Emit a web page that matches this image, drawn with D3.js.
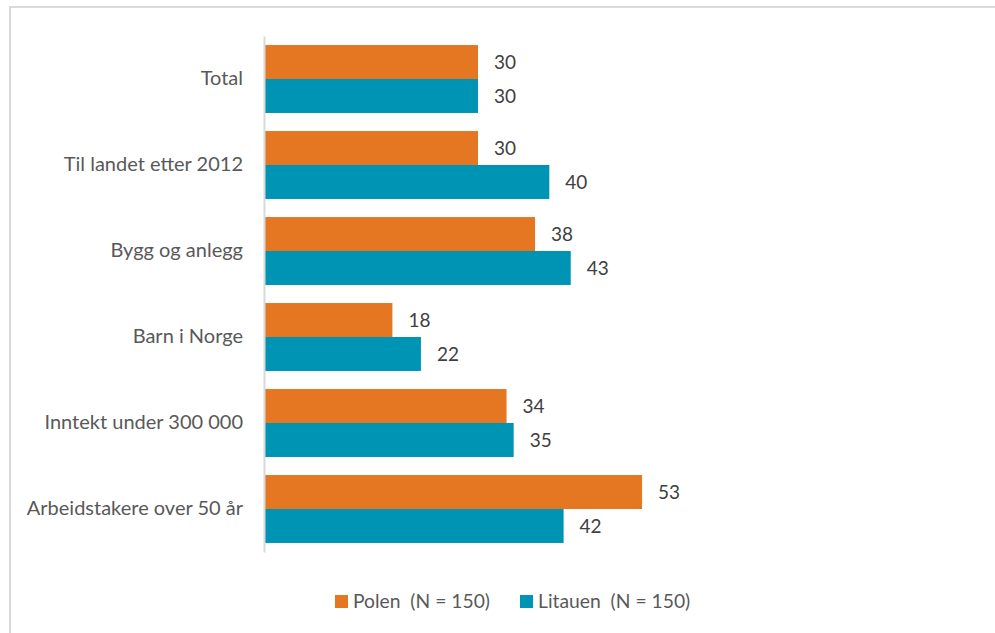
<!DOCTYPE html>
<html>
<head>
<meta charset="utf-8">
<script src="https://cdn.jsdelivr.net/npm/d3@7"></script>
<style>
  html, body { margin: 0; padding: 0; background: #fff; }
  svg { display: block; }
  text { font-family: Lato, "Open Sans", sans-serif; }
</style>
</head>
<body>
<svg id="chart" width="995" height="633"></svg>
<script>
const categories = ["Total", "Til landet etter 2012", "Bygg og anlegg", "Barn i Norge", "Inntekt under 300 000", "Arbeidstakere over 50 år"];
const seriesNames = ["Polen  (N = 150)", "Litauen  (N = 150)"];
const polen = [30, 30, 38, 18, 34, 53];
const litauen = [30, 40, 43, 22, 35, 42];
const colors = ["#E67722", "#0094B4"];

const svg = d3.select("#chart");
const W = 995, H = 633;

// outer frame (only top & left visible in the reference)
svg.append("rect")
  .attr("x", 10).attr("y", 7)
  .attr("width", W + 20).attr("height", H + 20)
  .attr("fill", "none").attr("stroke", "#d9d9d9").attr("stroke-width", 2);

const x0 = 264;
const x = d3.scaleLinear().domain([0, 30]).range([x0, 478]);
const y = d3.scaleBand().domain(categories).range([36, 552]).paddingInner(0.21).paddingOuter(0.105);
const ySub = d3.scaleBand().domain([0, 1]).range([0, y.bandwidth()]);

const data = categories.map((c, i) => ({ cat: c, vals: [polen[i], litauen[i]] }));

const g = svg.append("g");
const groups = g.selectAll("g.cat").data(data).join("g")
  .attr("transform", d => `translate(0,${y(d.cat)})`);

groups.selectAll("rect").data(d => d.vals.map((v, k) => ({ v, k }))).join("rect")
  .attr("x", x(0))
  .attr("y", d => ySub(d.k))
  .attr("width", d => x(d.v) - x(0))
  .attr("height", ySub.bandwidth())
  .attr("fill", d => colors[d.k]);

groups.selectAll("text.val").data(d => d.vals.map((v, k) => ({ v, k }))).join("text")
  .attr("class", "val")
  .attr("x", d => x(d.v) + 16)
  .attr("y", d => ySub(d.k) + ySub.bandwidth() / 2)
  .attr("dy", "0.35em")
  .attr("font-size", 19)
  .attr("fill", "#404040")
  .text(d => d.v);

// category axis
const yAxis = d3.axisLeft(y).tickSize(0).tickPadding(21);
const ax = svg.append("g").attr("transform", `translate(${x0},0)`).call(yAxis);
ax.select(".domain").attr("stroke", "#d9d9d9").attr("stroke-width", 2);
ax.selectAll(".tick text")
  .attr("font-size", 20)
  .attr("fill", "#595959")
  .style("font-family", "Lato, 'Open Sans', sans-serif");

// legend
const legend = svg.append("g");
const legX = [335, 520];
seriesNames.forEach((name, k) => {
  legend.append("rect").attr("x", legX[k]).attr("y", 595).attr("width", 13).attr("height", 13).attr("fill", colors[k]);
  legend.append("text").attr("x", legX[k] + 18).attr("y", 601.5).attr("dy", "0.35em")
    .attr("font-size", 19.3).attr("fill", "#595959").style("white-space", "pre").text(name);
});
</script>
</body>
</html>
